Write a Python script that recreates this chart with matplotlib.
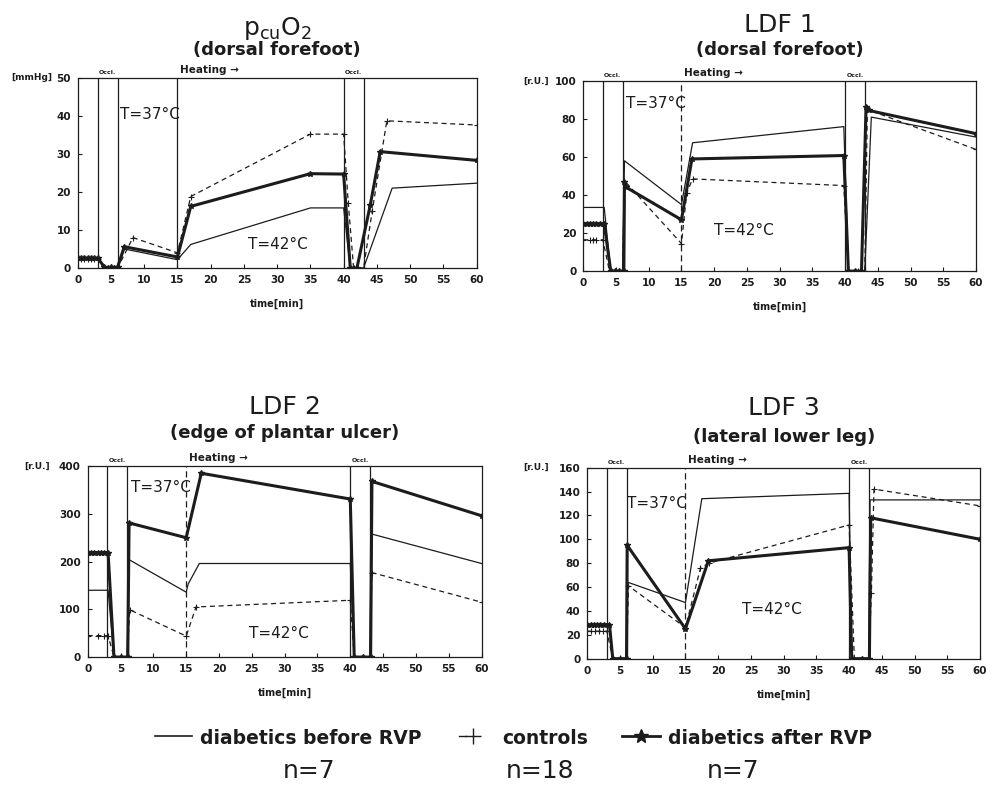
import matplotlib
matplotlib.use('Agg')
import matplotlib.pyplot as plt
from matplotlib.lines import Line2D

# ---- data ----
# pcuO2 (dorsal forefoot)
p1_before_t = [0, 1, 2, 3, 4, 5, 6, 7, 15, 17, 35, 40, 41, 43, 47.3, 60]
p1_before_v = [2.5, 2.5, 2.5, 2.5, 0, 0, 0, 5, 2.2, 6.2, 15.8, 15.8, 0, 0, 21, 22.3]
p1_ctrl_t = [0, 0.5, 1, 1.5, 2, 2.5, 3, 4, 5, 6, 8.3, 15, 17, 35, 40, 40.7, 41.5, 43, 44.3, 46.5, 60]
p1_ctrl_v = [2.5, 2.5, 2.5, 2.5, 2.5, 2.5, 2.5, 0, 0, 0, 8, 4, 18.8, 35.2, 35.2, 17, 0, 0, 15, 38.7, 37.6]
p1_after_t = [0, 0.5, 1, 1.5, 2, 2.5, 3, 4, 4.5, 5, 5.5, 6, 7, 15, 17, 35, 40, 41, 42, 44, 45.5, 60]
p1_after_v = [2.6, 2.6, 2.6, 2.6, 2.6, 2.6, 2.6, 0.3, 0, 0.2, 0, 0.3, 5.6, 2.9, 16.2, 24.8, 24.7, 0, 0, 16.5, 30.6, 28.3]

# LDF 1 (dorsal forefoot)
p2_before_t = [0, 3.2, 4.2, 6.0, 6.3, 15, 16.7, 39.8, 40.5, 43, 44, 60]
p2_before_v = [33.5, 33.5, 0, 0, 58, 35, 67.5, 76, 0, 0, 81, 70.5]
p2_ctrl_t = [0, 1, 1.5, 2, 3, 4, 5, 6, 6.3, 15, 15.8, 16.7, 39.8, 40.5, 42, 43, 43.4, 60]
p2_ctrl_v = [16.5, 16.5, 16.5, 16.5, 16.5, 0, 0, 0, 47.5, 14.5, 41, 48.5, 45, 0, 0, 0, 85, 64]
p2_after_t = [0, 0.5, 1, 1.5, 2, 2.5, 3.2, 4.2, 4.8, 5.4, 6.2, 6.3, 6.6, 15, 16.6, 39.8, 40.5, 41.5, 42.5, 43.2, 43.6, 60]
p2_after_v = [25, 25, 25, 25, 25, 25, 25, 0, 0, 0, 0, 47, 44, 27, 59, 60.8, 0, 0, 0, 86.5, 84.5, 72.3]

# LDF 2 (edge of plantar ulcer)
p3_before_t = [0, 3.1, 4.0, 6.0, 6.3, 15, 15.3, 17, 40, 40.6, 43, 43.2, 60]
p3_before_v = [140, 140, 0, 0, 204, 136, 153, 196, 196, 0, 0, 258, 196]
p3_ctrl_t = [0, 1.5, 2.5, 3.1, 4.0, 6.0, 6.4, 15, 16.5, 40, 40.6, 43, 43.3, 60]
p3_ctrl_v = [45, 45, 45, 45, 0, 0, 99, 44, 105, 119, 0, 0, 177, 115]
p3_after_t = [0, 0.5, 1, 1.5, 2, 2.5, 3.1, 4.0, 5, 6.1, 6.3, 15, 17.3, 40, 40.6, 42, 43.1, 43.3, 60]
p3_after_v = [219, 219, 219, 219, 219, 219, 219, 0, 0, 0, 281, 250, 385, 331, 0, 0, 0, 368, 296]

# LDF 3 (lateral lower leg)
p4_before_t = [0, 3.4, 3.9, 6.0, 6.2, 15, 17.5, 40, 40.4, 43, 43.2, 60]
p4_before_v = [27, 27, 0, 0, 64, 47, 134, 138.5, 0, 0, 133, 133]
p4_ctrl_t = [0, 0.6, 1.2, 1.8, 2.4, 3.0, 3.9, 6.0, 6.3, 15, 17.3, 18.6, 40, 40.8, 43, 43.4, 43.8, 60]
p4_ctrl_v = [23, 23, 23, 23, 23, 23, 0, 0, 61, 26, 76, 80, 112, 0, 0, 55, 142, 128]
p4_after_t = [0, 0.5, 1, 1.5, 2, 2.5, 3.4, 3.9, 5, 6.0, 6.1, 15, 18.5, 40, 40.4, 42, 43.1, 43.3, 60]
p4_after_v = [28.5, 28.5, 28.5, 28.5, 28.5, 28.5, 28.5, 0, 0, 0, 95, 25, 82, 93, 0, 0, 0, 118, 100]

titles = [r'$\mathregular{p_{cu}O_2}$', 'LDF 1', 'LDF 2', 'LDF 3']
subtitles = ['(dorsal forefoot)', '(dorsal forefoot)', '(edge of plantar ulcer)', '(lateral lower leg)']
units = ['[mmHg]', '[r.U.]', '[r.U.]', '[r.U.]']
ymax = [50, 100, 400, 160]
ystep = [10, 20, 100, 20]
xticks = list(range(0, 61, 5))
occl = [3, 6, 40, 43]
heating = 15
legend_labels = ['diabetics before RVP', 'controls', 'diabetics after RVP']
n_labels = ['n=7', 'n=18', 'n=7']

# label positions (T=37 / T=42) in data coords
t37_pos = [(6.4, 40.3), (6.6, 88), (6.6, 355), (6.0, 130)]
t42_pos = [(25.6, 6.1), (19.9, 21.4), (24.5, 49), (23.7, 41.3)]

series = [
    (p1_before_t, p1_before_v, p1_ctrl_t, p1_ctrl_v, p1_after_t, p1_after_v),
    (p2_before_t, p2_before_v, p2_ctrl_t, p2_ctrl_v, p2_after_t, p2_after_v),
    (p3_before_t, p3_before_v, p3_ctrl_t, p3_ctrl_v, p3_after_t, p3_after_v),
    (p4_before_t, p4_before_v, p4_ctrl_t, p4_ctrl_v, p4_after_t, p4_after_v),
]

ink = '#1c1c1c'
plt.rcParams['font.family'] = 'DejaVu Sans'

W, H = 997.0, 786.0
fig = plt.figure(figsize=(9.97, 7.86), dpi=100)
rects = [[0.078, 0.659, 0.400, 0.242],
         [0.585, 0.655, 0.394, 0.242],
         [0.088, 0.164, 0.395, 0.243],
         [0.589, 0.162, 0.394, 0.243]]
title_y = [(0.964, 0.936), (0.968, 0.936), (0.482, 0.449), (0.481, 0.444)]
unit_px = [-26, -34, -38, -38]

for i, rect in enumerate(rects):
    ax = fig.add_axes(rect)
    bt, bv, ct, cv, at, av = series[i]

    ax.plot(bt, bv, color=ink, lw=0.9)
    ax.plot(ct, cv, color=ink, lw=0.9, ls=(0, (4, 3)), marker='+', ms=5, mew=0.8)
    ax.plot(at, av, color=ink, lw=2.2, marker='*', ms=4)

    for xo in occl:
        ax.axvline(xo, color=ink, lw=0.9)
    ax.axvline(heating, color=ink, lw=0.9, ls='-' if i == 0 else (0, (5, 3)))

    ax.set_xlim(0, 60)
    ax.set_ylim(0, ymax[i])
    ax.set_xticks(xticks)
    ax.set_yticks(list(range(0, ymax[i] + 1, ystep[i])))
    ax.tick_params(direction='in', length=3, width=0.8, labelsize=7.5, colors=ink, pad=5)
    for lab in ax.get_xticklabels() + ax.get_yticklabels():
        lab.set_fontweight('bold')
    for sp in ax.spines.values():
        sp.set_linewidth(0.9)
        sp.set_color(ink)

    ax.set_xlabel('time[min]', fontsize=7, fontweight='bold', labelpad=10, color=ink)
    ax.text(unit_px[i] / (rect[2] * W), 1.0, units[i], transform=ax.transAxes, ha='right',
            va='center', fontsize=6.5, fontweight='bold', color=ink)

    # annotations above the frame
    ax.text((occl[0] + occl[1]) / 2, ymax[i] * 1.015, 'Occl.', ha='center', va='bottom',
            fontsize=4.5, fontweight='bold', color=ink)
    ax.text((occl[2] + occl[3]) / 2, ymax[i] * 1.015, 'Occl.', ha='center', va='bottom',
            fontsize=4.5, fontweight='bold', color=ink)
    ax.text(heating + 0.4, ymax[i] * 1.015, 'Heating \u2192', ha='left', va='bottom',
            fontsize=7.5, fontweight='bold', color=ink)

    ax.text(t37_pos[i][0], t37_pos[i][1], 'T=37\u00b0C', ha='left', va='center', fontsize=11, color=ink)
    ax.text(t42_pos[i][0], t42_pos[i][1], 'T=42\u00b0C', ha='left', va='center', fontsize=11, color=ink)

    cx = rect[0] + rect[2] / 2
    fig.text(cx, title_y[i][0], titles[i], ha='center', va='center', fontsize=18, color=ink)
    fig.text(cx, title_y[i][1], subtitles[i], ha='center', va='center', fontsize=13,
             fontweight='bold', color=ink)

# legend row drawn by hand to mimic the original layout
ly = 1 - 736 / H
fig.add_artist(Line2D([155 / W, 192 / W], [ly, ly], transform=fig.transFigure, color=ink, lw=1.2))
fig.add_artist(Line2D([459 / W, 466 / W], [ly, ly], transform=fig.transFigure, color=ink, lw=1.0))
fig.add_artist(Line2D([473 / W], [ly], transform=fig.transFigure, color=ink, marker='+', ms=11, mew=1.0))
fig.add_artist(Line2D([622 / W, 660 / W], [ly, ly], transform=fig.transFigure, color=ink, lw=2.0))
fig.add_artist(Line2D([641 / W], [ly], transform=fig.transFigure, color=ink, marker='*', ms=10))

text_x = [200, 502, 668]
n_x = [309, 540, 733]
for k in range(3):
    fig.text(text_x[k] / W, 1 - 738 / H, legend_labels[k], ha='left', va='center',
             fontsize=13.5, fontweight='bold', color=ink)
    fig.text(n_x[k] / W, 1 - 771 / H, n_labels[k], ha='center', va='center',
             fontsize=18, color=ink)

fig.savefig('out.png', dpi=100, facecolor='white')
